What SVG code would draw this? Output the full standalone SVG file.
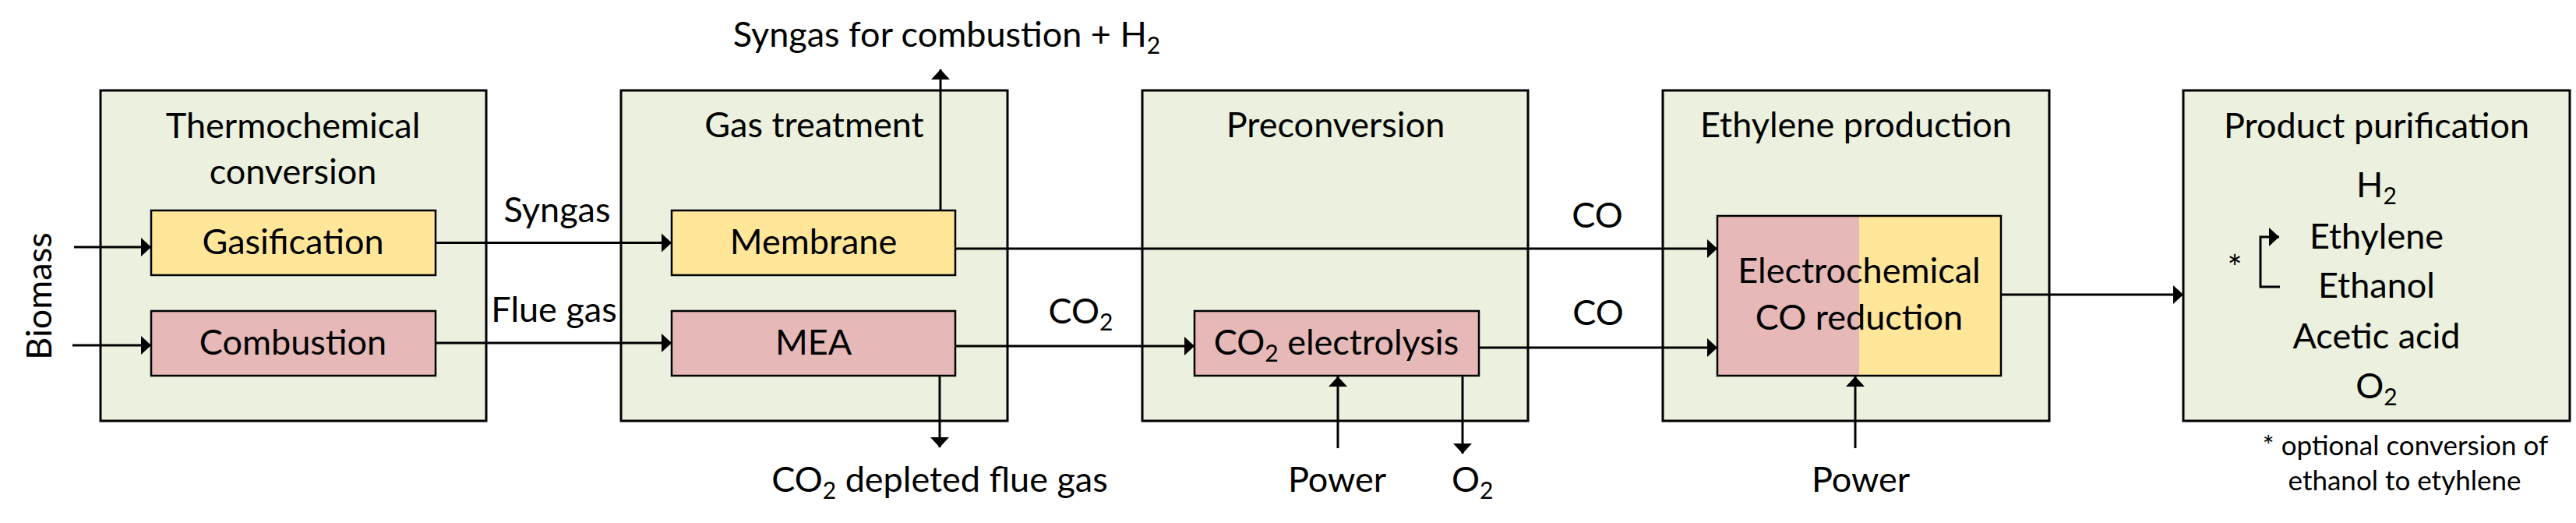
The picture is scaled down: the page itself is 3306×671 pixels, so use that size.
<svg xmlns="http://www.w3.org/2000/svg" width="3306" height="671" viewBox="0 0 3306 671">
<style>
text{font-family:Lato,"Liberation Sans",sans-serif;font-size:45px;fill:#000}
.m{text-anchor:middle}
.fn{font-size:35px}
.stage{fill:#EBF1DE;stroke:#000;stroke-width:3}
.pink{fill:#E6B9B8;stroke:#000;stroke-width:2.5}
.yel{fill:#FFE699;stroke:#000;stroke-width:2.5}
.c{fill:none;stroke:#000;stroke-width:3}
</style>
<defs>
<marker id="ah" markerUnits="userSpaceOnUse" markerWidth="14" markerHeight="24" refX="13" refY="12" orient="auto" viewBox="0 0 14 24">
<path d="M0,0 L13,12 L0,24 z" fill="#000"/>
</marker>
</defs>

<g id="stage-thermochemical">
<rect class="stage" x="129" y="116" width="495" height="424"/>
<text class="m" x="376" y="177">Thermochemical</text>
<text class="m" x="376" y="236">conversion</text>
</g>
<g id="node-gasification">
<rect class="yel" x="194" y="270" width="365" height="83"/>
<text class="m" x="376" y="326">Gasification</text>
</g>
<g id="node-combustion">
<rect class="pink" x="194" y="399" width="365" height="83"/>
<text class="m" x="376" y="455">Combustion</text>
</g>

<g id="stage-gas-treatment">
<rect class="stage" x="797" y="116" width="496" height="424"/>
<text class="m" x="1045" y="176">Gas treatment</text>
</g>
<g id="node-membrane">
<rect class="yel" x="862" y="270" width="364" height="83"/>
<text class="m" x="1044" y="326">Membrane</text>
</g>
<g id="node-mea">
<rect class="pink" x="862" y="399" width="364" height="83"/>
<text class="m" x="1044" y="455">MEA</text>
</g>

<g id="stage-preconversion">
<rect class="stage" x="1466" y="116" width="495" height="424"/>
<text class="m" x="1714" y="176">Preconversion</text>
</g>
<g id="node-co2-electrolysis">
<rect class="pink" x="1533" y="399" width="365" height="83"/>
<text class="m" x="1715" y="455">CO<tspan font-size="30" dy="9">2</tspan><tspan dy="-9"> electrolysis</tspan></text>
</g>

<g id="stage-ethylene">
<rect class="stage" x="2134" y="116" width="496" height="424"/>
<text class="m" x="2382" y="176">Ethylene production</text>
</g>
<g id="node-electrochemical">
<rect x="2204" y="277" width="182" height="205" fill="#E6B9B8"/>
<rect x="2386" y="277" width="182" height="205" fill="#FFE699"/>
<rect x="2204" y="277" width="364" height="205" fill="none" stroke="#000" stroke-width="2.5"/>
<text class="m" x="2386" y="363">Electrochemical</text>
<text class="m" x="2386" y="423">CO reduction</text>
</g>

<g id="stage-product">
<rect class="stage" x="2802" y="116" width="496" height="424"/>
<text class="m" x="3050" y="177">Product purification</text>
<text class="m" x="3050" y="253">H<tspan font-size="30" dy="9">2</tspan></text>
<text class="m" x="3050" y="319">Ethylene</text>
<text class="m" x="3050" y="382">Ethanol</text>
<text class="m" x="3050" y="447">Acetic acid</text>
<text class="m" x="3050" y="511">O<tspan font-size="30" dy="9">2</tspan></text>
<text class="m" x="2868" y="359" font-size="75">*</text>
</g>

<g id="connectors">
<line class="c" x1="95" y1="317" x2="194" y2="317" marker-end="url(#ah)"/>
<line class="c" x1="93" y1="443" x2="194" y2="443" marker-end="url(#ah)"/>
<line class="c" x1="559" y1="311.5" x2="862" y2="311.5" marker-end="url(#ah)"/>
<line class="c" x1="559" y1="440" x2="862" y2="440" marker-end="url(#ah)"/>
<line class="c" x1="1207" y1="270" x2="1207" y2="89" marker-end="url(#ah)"/>
<line class="c" x1="1226" y1="319" x2="2204" y2="319" marker-end="url(#ah)"/>
<line class="c" x1="1226" y1="444" x2="1533" y2="444" marker-end="url(#ah)"/>
<line class="c" x1="1206" y1="482" x2="1206" y2="574" marker-end="url(#ah)"/>
<line class="c" x1="1898" y1="446" x2="2204" y2="446" marker-end="url(#ah)"/>
<line class="c" x1="1717" y1="575" x2="1717" y2="483" marker-end="url(#ah)"/>
<line class="c" x1="1877" y1="482" x2="1877" y2="582" marker-end="url(#ah)"/>
<line class="c" x1="2568" y1="378" x2="2802" y2="378" marker-end="url(#ah)"/>
<line class="c" x1="2381" y1="575" x2="2381" y2="483" marker-end="url(#ah)"/>
<path class="c" d="M2926,368 H2901 V304 H2925" marker-end="url(#ah)"/>
</g>

<g id="labels">
<text class="m" transform="translate(66,380) rotate(-90)" x="0" y="0">Biomass</text>
<text class="m" x="715" y="285">Syngas</text>
<text class="m" x="711" y="413">Flue gas</text>
<text class="m" x="1215" y="60">Syngas for combustion + H<tspan font-size="30" dy="9">2</tspan></text>
<text class="m" x="1387" y="415">CO<tspan font-size="30" dy="9">2</tspan></text>
<text class="m" x="1206" y="631">CO<tspan font-size="30" dy="9">2</tspan><tspan dy="-9"> depleted flue gas</tspan></text>
<text class="m" x="2050" y="292">CO</text>
<text class="m" x="2051" y="417">CO</text>
<text class="m" x="1716" y="631">Power</text>
<text x="1863" y="631">O<tspan font-size="30" dy="9">2</tspan></text>
<text class="m" x="2388" y="631">Power</text>
<text class="m fn" x="3087" y="584">* optional conversion of</text>
<text class="m fn" x="3086" y="629">ethanol to etyhlene</text>
</g>
</svg>
